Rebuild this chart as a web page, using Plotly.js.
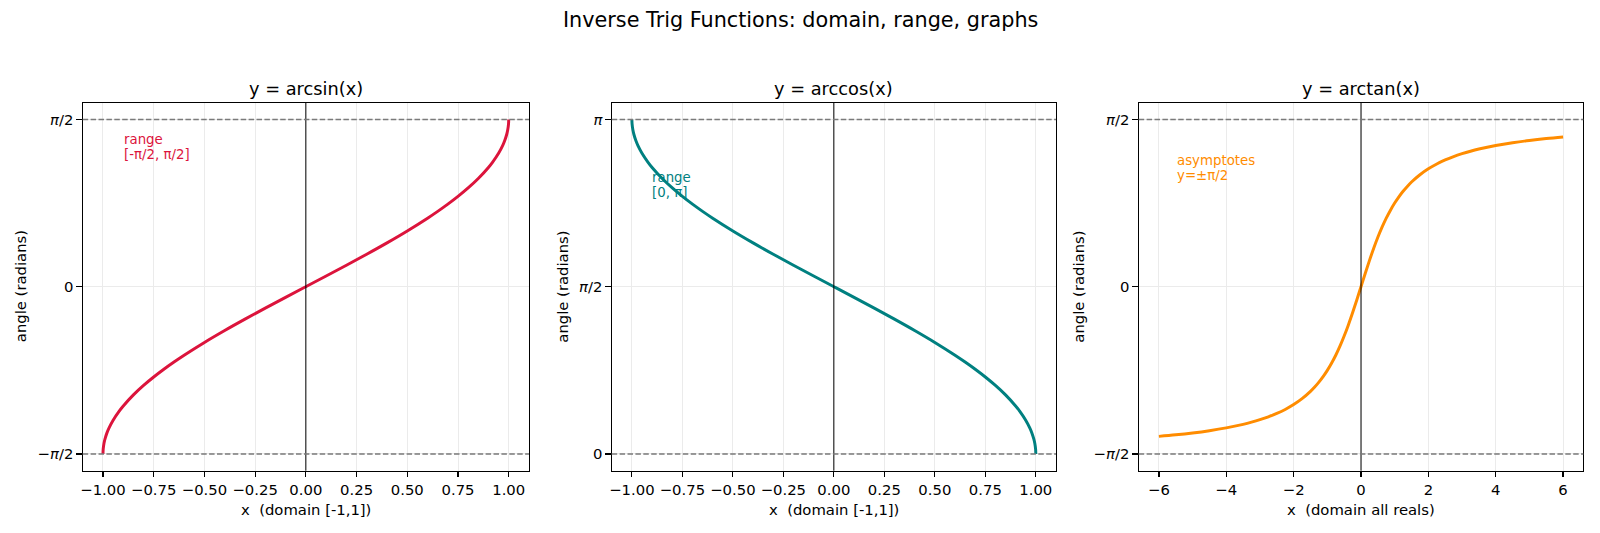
<!DOCTYPE html>
<html>
<head>
<meta charset="utf-8">
<script src="https://cdn.plot.ly/plotly-3.0.1.min.js"></script>
<style>
  html, body { margin: 0; padding: 0; background: #ffffff; }
  #chart { width: 1600px; height: 533px; }
</style>
</head>
<body>
<div id="chart"></div>
<script>
// Sample points of y = arcsin(x) on the domain [-1, 1] (denser near the ends)
const asinX = [-1, -0.999, -0.995, -0.99, -0.98, -0.97, -0.95, -0.92, -0.9, -0.85, -0.8, -0.75, -0.7, -0.65, -0.6, -0.5, -0.4, -0.3, -0.2, -0.1, 0,
               0.1, 0.2, 0.3, 0.4, 0.5, 0.6, 0.65, 0.7, 0.75, 0.8, 0.85, 0.9, 0.92, 0.95, 0.97, 0.98, 0.99, 0.995, 0.999, 1];
const asinY = [-1.5708, -1.5261, -1.4707, -1.4293, -1.3705, -1.3252, -1.2532, -1.1681, -1.1198, -1.0160, -0.9273, -0.8481, -0.7754, -0.7076, -0.6435, -0.5236, -0.4115, -0.3047, -0.2014, -0.1002, 0,
               0.1002, 0.2014, 0.3047, 0.4115, 0.5236, 0.6435, 0.7076, 0.7754, 0.8481, 0.9273, 1.0160, 1.1198, 1.1681, 1.2532, 1.3252, 1.3705, 1.4293, 1.4707, 1.5261, 1.5708];

// Sample points of y = arccos(x) on the domain [-1, 1]
const acosX = asinX.slice();
const acosY = [3.1416, 3.0969, 3.0415, 3.0001, 2.9413, 2.8960, 2.8240, 2.7389, 2.6906, 2.5868, 2.4981, 2.4189, 2.3462, 2.2784, 2.2143, 2.0944, 1.9823, 1.8755, 1.7722, 1.6710, 1.5708,
               1.4706, 1.3694, 1.2661, 1.1593, 1.0472, 0.9273, 0.8632, 0.7954, 0.7227, 0.6435, 0.5548, 0.4510, 0.4027, 0.3176, 0.2456, 0.2003, 0.1415, 0.1002, 0.0447, 0];

// Sample points of y = arctan(x) for x in [-6, 6]
const atanX = [-6, -5.5, -5, -4.5, -4, -3.5, -3.25, -3, -2.75, -2.5, -2.25, -2, -1.75, -1.5, -1.375, -1.25, -1.125, -1, -0.875, -0.75, -0.625, -0.5, -0.375, -0.25, -0.125, 0,
               0.125, 0.25, 0.375, 0.5, 0.625, 0.75, 0.875, 1, 1.125, 1.25, 1.375, 1.5, 1.75, 2, 2.25, 2.5, 2.75, 3, 3.25, 3.5, 4, 4.5, 5, 5.5, 6];
const atanY = [-1.4056, -1.3909, -1.3734, -1.3521, -1.3258, -1.2925, -1.2723, -1.2490, -1.2220, -1.1903, -1.1526, -1.1071, -1.0517, -0.9828, -0.9420, -0.8961, -0.8442, -0.7854, -0.7188, -0.6435, -0.5586, -0.4636, -0.3588, -0.2450, -0.1244, 0,
               0.1244, 0.2450, 0.3588, 0.4636, 0.5586, 0.6435, 0.7188, 0.7854, 0.8442, 0.8961, 0.9420, 0.9828, 1.0517, 1.1071, 1.1526, 1.1903, 1.2220, 1.2490, 1.2723, 1.2925, 1.3258, 1.3521, 1.3734, 1.3909, 1.4056];

// Y tick positions and labels for each panel
const HALF_PI = Math.PI / 2;
const sinTickVals = [-HALF_PI, 0, HALF_PI];
const sinTickText = ['\u2212<i>\u03c0</i>/2', '0', '<i>\u03c0</i>/2'];
const cosTickVals = [0, HALF_PI, Math.PI];
const cosTickText = ['0', '<i>\u03c0</i>/2', '<i>\u03c0</i>'];
const tanTickVals = [-HALF_PI, 0, HALF_PI];
const tanTickText = ['\u2212<i>\u03c0</i>/2', '0', '<i>\u03c0</i>/2'];

// Reference lines (bounds of the range / asymptotes)
const sinBounds = [-HALF_PI, HALF_PI];
const cosBounds = [0, Math.PI];
const tanBounds = [-HALF_PI, HALF_PI];

const panelTitles = ['y = arcsin(x)', 'y = arccos(x)', 'y = arctan(x)'];
const xTitles = ['x\u00a0 (domain [-1,1])', 'x\u00a0 (domain [-1,1])', 'x\u00a0 (domain all reals)'];
const yTitle = 'angle (radians)';
const noteLines = [['range', '[-\u03c0/2, \u03c0/2]'], ['range', '[0, \u03c0]'], ['asymptotes', 'y=\u00b1\u03c0/2']];

const COLORS = ['#DC143C', '#008080', '#FF8C00'];
const FONT = 'DejaVu Sans, Liberation Sans, sans-serif';
const W = 1600, H = 533;
const PT = 1.0667; // pixels per point

// panel geometry in pixels
const xDomPx = [[82.7, 529], [611.7, 1056], [1138.7, 1583.3]];
const yTopPx = 102.7, yBotPx = 470.7;
const px2x = p => p / W;
const px2y = p => 1 - p / H;
const yDom = [px2y(yBotPx), px2y(yTopPx)];

const curveLine = c => ({ color: c, width: 2 * PT * 1.39, shape: 'spline', smoothing: 1 });
const traces = [
  { x: asinX, y: asinY, xaxis: 'x', yaxis: 'y', mode: 'lines', line: curveLine(COLORS[0]), hoverinfo: 'skip' },
  { x: acosX, y: acosY, xaxis: 'x2', yaxis: 'y2', mode: 'lines', line: curveLine(COLORS[1]), hoverinfo: 'skip' },
  { x: atanX, y: atanY, xaxis: 'x3', yaxis: 'y3', mode: 'lines', line: curveLine(COLORS[2]), hoverinfo: 'skip' }
];

const tickFont = { family: FONT, size: 10 * 1.39 * PT, color: '#000' };
const spineW = 0.8 * 1.39 * PT;

function xAxis(i, range, extra) {
  return Object.assign({
    domain: [px2x(xDomPx[i][0]), px2x(xDomPx[i][1])],
    range: range,
    anchor: i === 0 ? 'y' : 'y' + (i + 1),
    showline: true, linecolor: '#000', linewidth: spineW, mirror: true,
    ticks: 'outside', ticklen: 5.2, tickwidth: spineW, tickcolor: '#000',
    showgrid: true, gridcolor: '#ebebeb', gridwidth: 1,
    zeroline: false,
    tickfont: tickFont,
    fixedrange: true
  }, extra);
}
function yAxis(i, range, vals, text) {
  return {
    domain: yDom,
    range: range,
    anchor: i === 0 ? 'x' : 'x' + (i + 1),
    showline: true, linecolor: '#000', linewidth: spineW, mirror: true,
    ticks: 'outside', ticklen: 5.2, tickwidth: spineW, tickcolor: '#000',
    tickmode: 'array', tickvals: vals, ticktext: text,
    showgrid: true, gridcolor: '#ebebeb', gridwidth: 1,
    zeroline: false,
    tickfont: tickFont,
    fixedrange: true
  };
}

const yPad = 0.05 * Math.PI;
const layout = {
  width: W, height: H,
  margin: { l: 0, r: 0, t: 0, b: 0 },
  paper_bgcolor: '#ffffff', plot_bgcolor: '#ffffff',
  showlegend: false,
  font: { family: FONT, color: '#000' },
  xaxis: xAxis(0, [-1.1, 1.1], { tickmode: 'linear', tick0: -1, dtick: 0.25, tickformat: '.2f' }),
  xaxis2: xAxis(1, [-1.1, 1.1], { tickmode: 'linear', tick0: -1, dtick: 0.25, tickformat: '.2f' }),
  xaxis3: xAxis(2, [-6.6, 6.6], { tickmode: 'linear', tick0: -6, dtick: 2 }),
  yaxis: yAxis(0, [-HALF_PI - yPad, HALF_PI + yPad], sinTickVals, sinTickText),
  yaxis2: yAxis(1, [-yPad, Math.PI + yPad], cosTickVals, cosTickText),
  yaxis3: yAxis(2, [-HALF_PI - yPad, HALF_PI + yPad], tanTickVals, tanTickText),
  shapes: [],
  annotations: []
};

// dashed bounds and the x = 0 line in every panel
const boundSets = [sinBounds, cosBounds, tanBounds];
boundSets.forEach((bounds, i) => {
  const xr = i === 0 ? 'x' : 'x' + (i + 1);
  const yr = i === 0 ? 'y' : 'y' + (i + 1);
  layout.shapes.push({ type: 'line', xref: xr, yref: yr + ' domain', x0: 0, x1: 0, y0: 0, y1: 1,
    line: { color: '#000', width: 1 }, layer: 'above' });
  bounds.forEach(v => {
    layout.shapes.push({ type: 'line', xref: xr + ' domain', yref: yr, x0: 0, x1: 1, y0: v, y1: v,
      line: { color: '#7a7a7a', width: 1.4, dash: '5.5px,2.4px' }, layer: 'above' });
  });
});

// figure title
layout.annotations.push({ text: 'Inverse Trig Functions: domain, range, graphs', xref: 'paper', yref: 'paper',
  x: 0.5, y: px2y(20), xanchor: 'center', yanchor: 'middle', showarrow: false,
  font: { family: FONT, size: 14 * 1.39 * PT, color: '#000' } });

const yLabelPx = [20.5, 563, 1079];
const noteX = [121.5, 649.5, 1174.5];
const noteY = [[139, 154.3], [177.5, 192.8], [160.5, 175.8]];
for (let i = 0; i < 3; i++) {
  const cx = (xDomPx[i][0] + xDomPx[i][1]) / 2;
  layout.annotations.push({ text: panelTitles[i], xref: 'paper', yref: 'paper', x: px2x(cx), y: px2y(88),
    xanchor: 'center', yanchor: 'middle', showarrow: false, font: { family: FONT, size: 12 * 1.39 * PT, color: '#000' } });
  layout.annotations.push({ text: xTitles[i], xref: 'paper', yref: 'paper', x: px2x(cx), y: px2y(509),
    xanchor: 'center', yanchor: 'middle', showarrow: false, font: { family: FONT, size: 10 * 1.39 * PT, color: '#000' } });
  layout.annotations.push({ text: yTitle, xref: 'paper', yref: 'paper', x: px2x(yLabelPx[i]), y: (yDom[0] + yDom[1]) / 2,
    xanchor: 'center', yanchor: 'middle', textangle: -90, showarrow: false, font: { family: FONT, size: 10 * 1.39 * PT, color: '#000' } });
  noteLines[i].forEach((line, k) => {
    layout.annotations.push({ text: line, xref: 'paper', yref: 'paper', x: px2x(noteX[i]), y: px2y(noteY[i][k]),
      xanchor: 'left', yanchor: 'middle', align: 'left', showarrow: false,
      font: { family: FONT, size: 9 * 1.39 * PT, color: COLORS[i] } });
  });
}

Plotly.newPlot('chart', traces, layout, { displayModeBar: false, staticPlot: true });
</script>
</body>
</html>
